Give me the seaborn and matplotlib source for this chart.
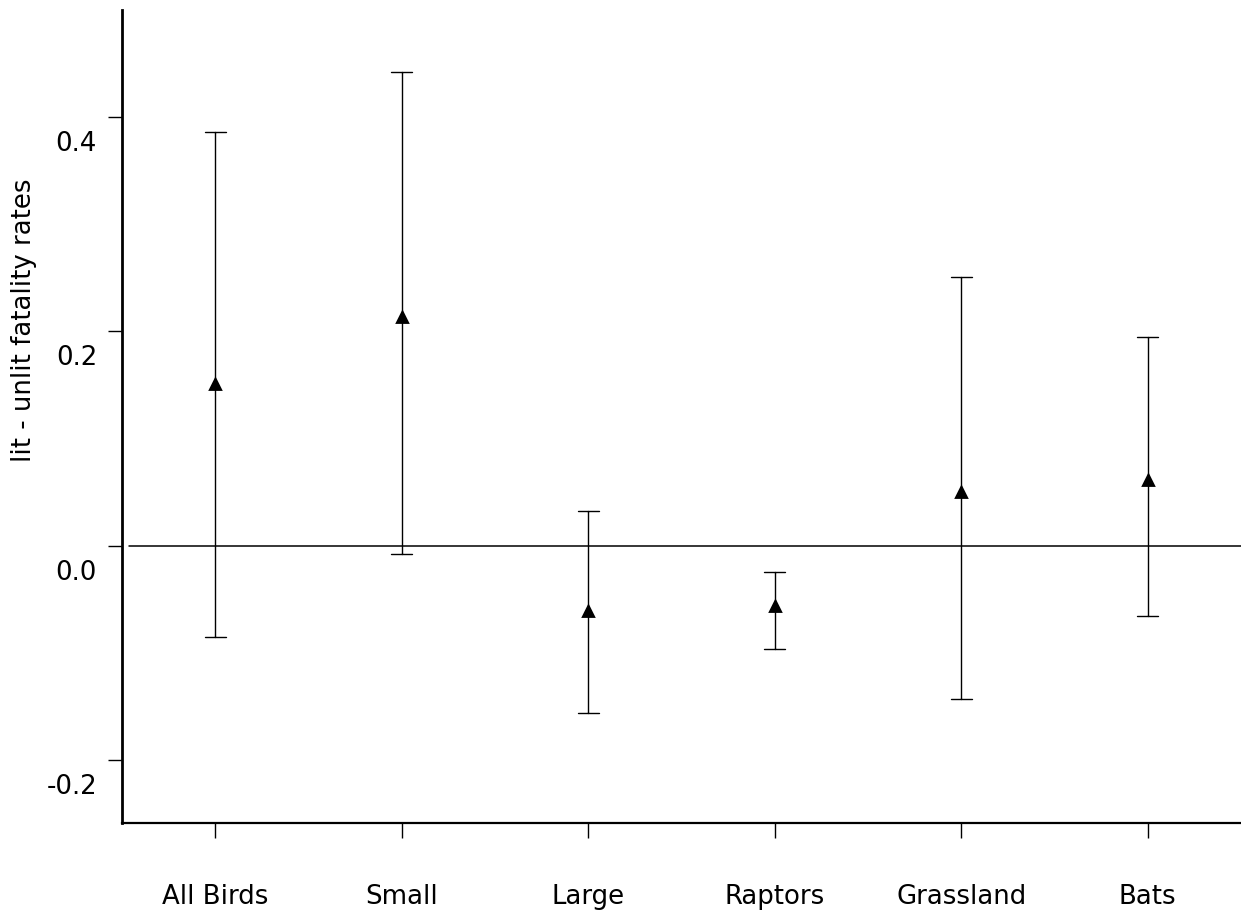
import seaborn as sns
import matplotlib.pyplot as plt
import matplotlib.transforms as mtransforms
import pandas as pd

# DATA
groups = ['All Birds', 'Small', 'Large', 'Raptors', 'Grassland', 'Bats']
diff = [0.151, 0.213, -0.061, -0.056, 0.050, 0.061]
upper = [0.386, 0.442, 0.032, -0.025, 0.251, 0.195]
lower = [-0.085, -0.008, -0.156, -0.097, -0.143, -0.066]
yticks = [-0.2, 0.0, 0.2, 0.4]
ytick_labels = ['-0.2', '0.0', '0.2', '0.4']

# Long table: lower / estimate / upper for every group, so that the median is the
# estimate and min / max give the interval
rows = []
for g, lo, d, up in zip(groups, lower, diff, upper):
    for v in (lo, d, up):
        rows.append({'Group': g, 'Value': v})
data = pd.DataFrame(rows)

# VISUALIZATION
sns.set_theme(style='white')
plt.rcParams['font.family'] = ['DejaVu Sans']
plt.rcParams['axes.unicode_minus'] = False
plt.rcParams['text.color'] = 'black'
plt.rcParams['axes.labelcolor'] = 'black'
plt.rcParams['xtick.color'] = 'black'
plt.rcParams['ytick.color'] = 'black'

fig = plt.figure(figsize=(12.41, 9.11), dpi=100)
ax = fig.add_axes([122 / 1241, 88 / 911, 1119 / 1241, 813 / 911])

sns.pointplot(
    data=data,
    x='Group',
    y='Value',
    order=groups,
    estimator='median',
    errorbar=lambda v: (v.min(), v.max()),
    linestyle='none',
    marker='^',
    markersize=7,
    color='black',
    capsize=0.11,
    err_kws={'linewidth': 1.0},
    ax=ax,
)

# zero line
ax.axhline(0, xmin=0.006, xmax=1, color='black', linewidth=1.1)

ax.set_xlim(-0.5, 5.5)
ax.set_ylim(-0.259, 0.5)
ax.set_yticks(yticks)
ax.set_yticklabels(ytick_labels)

# Axes styling
for side in ['top', 'right']:
    ax.spines[side].set_visible(False)
ax.spines['left'].set_linewidth(2.0)
ax.spines['bottom'].set_linewidth(1.6)
for side in ['left', 'bottom']:
    ax.spines[side].set_color('black')

ax.tick_params(axis='x', length=11, width=1, colors='black', pad=33, labelsize=18.7,
               bottom=True)
ax.tick_params(axis='y', length=10, width=1, colors='black', pad=8, labelsize=18.7,
               left=True)

# y tick labels sit a little below their ticks
offset = mtransforms.ScaledTranslation(0, -0.24, fig.dpi_scale_trans)
for lab in ax.get_yticklabels():
    lab.set_transform(lab.get_transform() + offset)

# Labels
ax.set_xlabel('')
ax.set_ylabel('lit - unlit fatality rates', fontsize=18.7, color='black')
ax.yaxis.label.set_va('center')
ax.yaxis.set_label_coords(-0.088, 0.619)

fig.savefig('out.png', dpi=100)
